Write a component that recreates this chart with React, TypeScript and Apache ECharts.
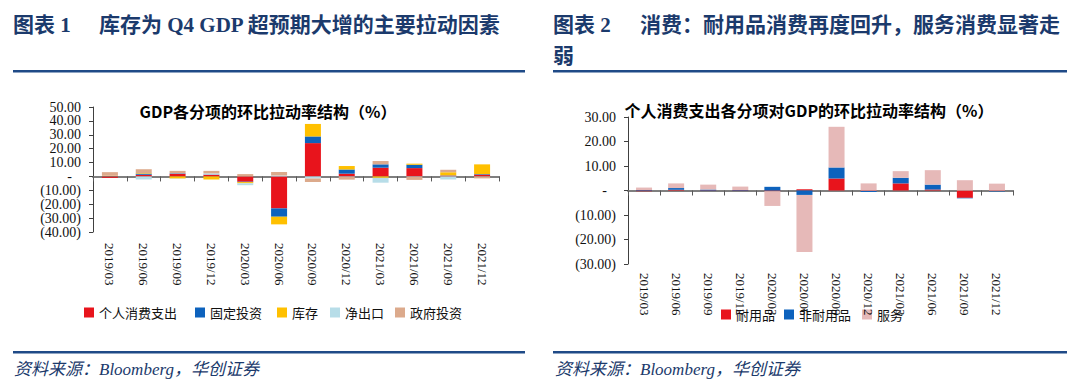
import React, { useEffect, useRef } from 'react';
import * as echarts from 'echarts';

// ---------- data ----------
const categories = [
  '2019/03', '2019/06', '2019/09', '2019/12',
  '2020/03', '2020/06', '2020/09', '2020/12',
  '2021/03', '2021/06', '2021/09', '2021/12',
];

// Chart 1: GDP components, QoQ contribution (%)
const gdpNames = ['个人消费支出', '固定投资', '库存', '净出口', '政府投资'];
const pce = [-1.0, 1.2, 1.8, 1.2, -3.8, -23.0, 24.0, 2.0, 6.3, 6.0, 0.6, 1.3];
const fixedInvestment = [0.2, 0.8, 0.4, 0.2, -0.3, -6.0, 4.8, 3.0, 2.4, 2.4, 0.2, 0.4];
const inventory = [0.3, 0.4, -1.5, -2.2, -0.8, -5.5, 9.0, 2.5, -1.0, 0.8, 2.2, 7.0];
const netExports = [0.0, -2.2, -0.2, 0.8, -1.4, 0.7, -1.5, -0.3, -3.5, -0.3, -2.2, -0.2];
const government = [2.6, 2.8, 1.8, 1.8, 1.7, 2.5, -2.5, -2.0, 2.4, -2.2, 1.8, -1.2];

// Chart 2: PCE components, contribution to GDP (%)
const pceNames = ['耐用品', '非耐用品', '服务'];
const durable = [-0.3, 0.3, -0.2, -0.2, -0.3, 0.5, 4.9, -0.2, 2.9, 0.4, -3.0, -0.2];
const nondurable = [0.2, 0.7, 0.4, 0.2, 1.5, -1.8, 4.5, -0.4, 2.3, 2.0, -0.2, -0.2];
const services = [1.0, 1.9, 2.0, 1.4, -6.0, -23.3, 16.6, 2.9, 2.7, 5.9, 4.2, 2.8];

// ---------- styles ----------
const gdpColors = ['#e8141c', '#0d62bd', '#ffc000', '#b7dde8', '#dcaa8c'];
const pceColors = ['#e8141c', '#0d62bd', '#e6b9b8'];
const NAVY = '#1b3a6c';
const RULE = '#1f4a87';
const SERIF = '"Liberation Serif", "Times New Roman", "Noto Sans CJK SC", serif';
const CJK = '"Noto Sans CJK SC", sans-serif';

const yFormatter = (v: number) =>
  v === 0 ? '{d|-}' : v < 0 ? `(${Math.abs(v).toFixed(2)})` : v.toFixed(2);

export default function App() {
  const ref = useRef<HTMLDivElement>(null);

  useEffect(() => {
    document.body.style.margin = '0';
    const chart = echarts.init(ref.current!, undefined, { renderer: 'svg' });

    const yAxisCommon = (gridIndex: number, min: number, max: number, margin: number) => ({
      type: 'value',
      gridIndex,
      min,
      max,
      interval: 10,
      splitLine: { show: false },
      axisLine: { show: true, lineStyle: { color: '#404040', width: 1 } },
      axisTick: { show: true, length: 4, lineStyle: { color: '#404040' } },
      axisLabel: {
        formatter: yFormatter,
        fontFamily: SERIF,
        fontSize: 14,
        color: '#111',
        margin,
        rich: { d: { padding: [0, 9, 0, 0], fontFamily: SERIF, fontSize: 14, color: '#111' } },
      },
    });

    const barAxis = (gridIndex: number) => ({
      type: 'category',
      gridIndex,
      data: categories,
      position: 'bottom',
      axisLine: { show: true, onZero: true, lineStyle: { color: '#7f7f7f', width: 2 } },
      axisTick: { show: true, length: 5, interval: 0, lineStyle: { color: '#595959', width: 1 } },
      axisLabel: { show: false },
      splitLine: { show: false },
    });

    const labelAxis = (gridIndex: number, margin: number) => ({
      type: 'category',
      gridIndex,
      data: categories,
      position: 'bottom',
      z: 10,
      axisLine: { show: false, onZero: false },
      axisTick: { show: false },
      splitLine: { show: false },
      axisLabel: {
        interval: 0,
        rotate: -90,
        margin,
        fontFamily: SERIF,
        fontSize: 13,
        color: '#111',
      },
    });

    const gdpData = [pce, fixedInvestment, inventory, netExports, government];
    const pceData = [durable, nondurable, services];

    const gdpLegendX = [84, 195, 277, 330, 395];
    const pceLegendX = [721, 784, 862];

    const legendItem = (name: string, left: number, top: number) => ({
      data: [name],
      left,
      top,
      z: 1,
      icon: 'rect',
      itemWidth: 10,
      itemHeight: 10,
      selectedMode: false,
      padding: 0,
      textStyle: { fontFamily: CJK, fontSize: 13, color: '#111' },
    });

    const option: any = {
      animation: false,
      backgroundColor: '#ffffff',
      grid: [
        { left: 93, top: 107, width: 406, height: 125 },
        { left: 628, top: 117, width: 385, height: 147 },
      ],
      xAxis: [barAxis(0), labelAxis(0, 11), barAxis(1), labelAxis(1, 9)],
      yAxis: [yAxisCommon(0, -40, 50, 12), yAxisCommon(1, -30, 30, 12)],
      legend: [
        ...gdpNames.map((n, i) => legendItem(n, gdpLegendX[i], 306)),
        ...pceNames.map((n, i) => legendItem(n, pceLegendX[i], 308)),
      ],
      series: [
        ...gdpNames.map((n, i) => ({
          name: n,
          type: 'bar',
          stack: 'gdp',
          xAxisIndex: 0,
          yAxisIndex: 0,
          barWidth: 16,
          data: gdpData[i],
          itemStyle: { color: gdpColors[i] },
        })),
        ...pceNames.map((n, i) => ({
          name: n,
          type: 'bar',
          stack: 'pce',
          xAxisIndex: 2,
          yAxisIndex: 1,
          barWidth: 16,
          data: pceData[i],
          itemStyle: { color: pceColors[i] },
        })),
      ],
      graphic: [
        // header titles
        { type: 'text', left: 13, top: 14, style: { text: '图表 1', fill: NAVY, font: `bold 21px ${SERIF}` } },
        { type: 'text', left: 99, top: 14, style: { text: '库存为 Q4 GDP 超预期大增的主要拉动因素', fill: NAVY, font: `bold 21px ${SERIF}` } },
        { type: 'text', left: 553, top: 14, style: { text: '图表 2', fill: NAVY, font: `bold 21px ${SERIF}` } },
        { type: 'text', left: 640, top: 14, style: { text: '消费：耐用品消费再度回升，服务消费显著走', fill: NAVY, font: `bold 21px ${SERIF}` } },
        { type: 'text', left: 553, top: 45, style: { text: '弱', fill: NAVY, font: `bold 21px ${SERIF}` } },
        // rules
        { type: 'rect', shape: { x: 13, y: 70, width: 512, height: 2.5 }, style: { fill: RULE } },
        { type: 'rect', shape: { x: 553, y: 70, width: 514, height: 2.5 }, style: { fill: RULE } },
        { type: 'rect', shape: { x: 13, y: 351, width: 512, height: 2.5 }, style: { fill: RULE } },
        { type: 'rect', shape: { x: 553, y: 351, width: 514, height: 2.5 }, style: { fill: RULE } },
        // chart titles
        { type: 'text', x: 268, y: 111, style: { text: 'GDP各分项的环比拉动率结构（%）', fill: '#000', font: `bold 16px ${CJK}`, align: 'center', verticalAlign: 'middle' } },
        { type: 'text', x: 809, y: 110, style: { text: '个人消费支出各分项对GDP的环比拉动率结构（%）', fill: '#000', font: `bold 16px ${CJK}`, align: 'center', verticalAlign: 'middle' } },
        // sources
        { type: 'text', x: 14, y: 369, style: { text: '资料来源：Bloomberg，华创证券', fill: NAVY, font: `italic 17px ${SERIF}`, verticalAlign: 'middle' } },
        { type: 'text', x: 555, y: 369, style: { text: '资料来源：Bloomberg，华创证券', fill: NAVY, font: `italic 17px ${SERIF}`, verticalAlign: 'middle' } },
      ],
    };

    chart.setOption(option);
    return () => chart.dispose();
  }, []);

  return <div ref={ref} style={{ width: 1080, height: 392 }} />;
}
